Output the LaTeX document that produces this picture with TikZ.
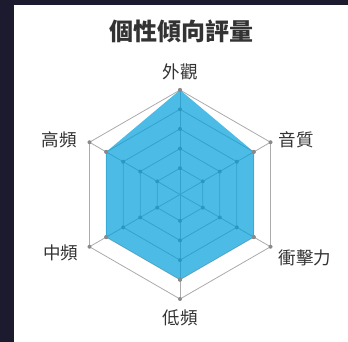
\documentclass[tikz,border=0pt]{standalone}
\usepackage{fontspec}
\setmainfont{Noto Sans CJK TC}
\definecolor{bgdark}{HTML}{1B1A2E}
\definecolor{gridgray}{HTML}{ABABAB}
\definecolor{dotgray}{HTML}{8A8A8A}
\definecolor{datablue}{HTML}{00A0DC}
\definecolor{txt}{HTML}{333333}
\tikzset{
  gridline/.style={draw=gridgray, line width=0.8pt},
  griddot/.style={fill=dotgray},
  datafill/.style={fill=datablue, fill opacity=0.7},
  axislabel/.style={text=txt, font=\fontsize{17.5}{20}\selectfont, inner sep=0pt},
  charttitle/.style={text=txt, font=\fontsize{24}{28}\selectfont\bfseries, inner sep=0pt}
}
\begin{document}
\begin{tikzpicture}[x=1pt,y=1pt]
\useasboundingbox (-180,-147.5) rectangle (168,194.5);
\fill[bgdark] (-180,-147.5) rectangle (168,194.5);
\fill[white] (-166,-147.5) rectangle (168,189.5);
\coordinate (c) at (0,0);
% grid rings
\foreach \r in {26.3,45.9,65.6,85.2,104.5}{
  \draw[gridline] (90:\r) -- (30:\r) -- (-30:\r) -- (-90:\r) -- (-150:\r) -- (150:\r) -- cycle;
}
% spokes
\foreach \a in {90,30,-30,-90,-150,150}{
  \draw[gridline] (c) -- (\a:104.5);
}
% grid dots
\foreach \r in {26.3,45.9,65.6,85.2,104.5}{
  \foreach \a in {90,30,-30,-90,-150,150}{
    \fill[griddot] (\a:\r) circle (2);
  }
}
% data area
\coordinate (d1) at (90:104.5);
\coordinate (d2) at (30:85.2);
\coordinate (d3) at (-30:85.2);
\coordinate (d4) at (-90:85.2);
\coordinate (d5) at (-150:85.2);
\coordinate (d6) at (150:85.2);
\fill[datafill] (d1) -- (d2) -- (d3) -- (d4) -- (d5) -- (d6) -- cycle;
\foreach \p in {d1,d2,d3,d4,d5,d6}{
  \fill[griddot] (\p) circle (2);
}
% labels
\node[charttitle] (title) at (2,163.5) {個性傾向評量};
\node[axislabel] (l1) at (0,122.5) {外觀};
\node[axislabel] (l2) at (116,54.5) {音質};
\node[axislabel] (l3) at (125,-63.5) {衝擊力};
\node[axislabel] (l4) at (0,-123.5) {低頻};
\node[axislabel] (l5) at (-119,-58.5) {中頻};
\node[axislabel] (l6) at (-120.5,54.5) {高頻};
\end{tikzpicture}
\end{document}
